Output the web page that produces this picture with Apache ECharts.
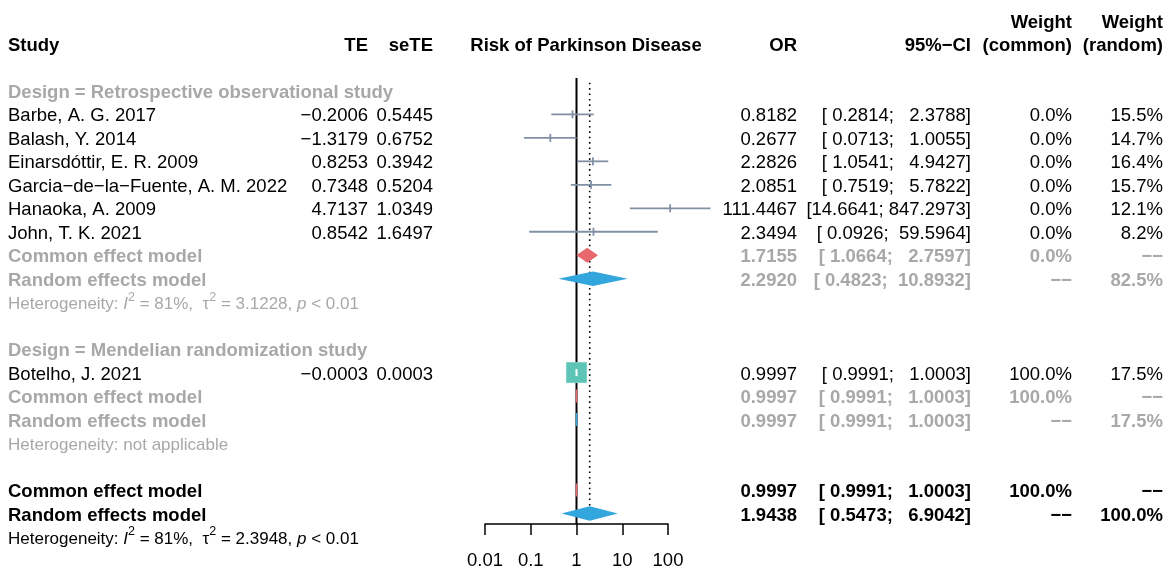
<!DOCTYPE html>
<html><head><meta charset="utf-8">
<script src="https://cdn.jsdelivr.net/npm/echarts@6/dist/echarts.min.js"></script>
<style>html,body{margin:0;padding:0;background:#fff}#c{width:1176px;height:569px}</style>
</head><body><div id="c"></div>
<script>
// ---------- data ----------
const studies = ['Barbe, A. G. 2017','Balash, Y. 2014','Einarsdóttir, E. R. 2009','Garcia−de−la−Fuente, A. M. 2022','Hanaoka, A. 2009','John, T. K. 2021','Botelho, J. 2021'];
const studyRows = [1,2,3,4,5,6,12];
const te = [-0.2006,-1.3179,0.8253,0.7348,4.7137,0.8542,-0.0003];
const seTE = [0.5445,0.6752,0.3942,0.5204,1.0349,1.6497,0.0003];
const orVal = [0.8182,0.2677,2.2826,2.0851,111.4467,2.3494,0.9997];
const ciLow = [0.2814,0.0713,1.0541,0.7519,14.6641,0.0926,0.9991];
const ciUp = [2.3788,1.0055,4.9427,5.7822,847.2973,59.5964,1.0003];
const wCommon = [0.0,0.0,0.0,0.0,0.0,0.0,100.0];
const wRandom = [15.5,14.7,16.4,15.7,12.1,8.2,17.5];

const sumLabels = ['Common effect model','Random effects model','Common effect model','Random effects model','Common effect model','Random effects model'];
const sumRows = [7,8,13,14,17,18];
const sumType = ['common','random','common','random','common','random'];
const sumOR = [1.7155,2.2920,0.9997,0.9997,0.9997,1.9438];
const sumLow = [1.0664,0.4823,0.9991,0.9991,0.9991,0.5473];
const sumUp = [2.7597,10.8932,1.0003,1.0003,1.0003,6.9042];
const sumWCommon = ['0.0%','−−','100.0%','−−','100.0%','−−'];
const sumWRandom = ['−−','82.5%','−−','17.5%','−−','100.0%'];
const sumOverall = [false,false,false,false,true,true];

const groupLabels = ['Design = Retrospective observational study','Design = Mendelian randomization study'];
const groupRows = [0,11];

const hetRows = [9,15,19];
const hetI2 = ['81%', null, '81%'];
const hetTau2 = ['3.1228', null, '2.3948'];
const hetP = ['< 0.01', null, '< 0.01'];
const hetOverall = [false,false,true];

const xTicks = [0.01,0.1,1,10,100];
const tickLabels = ['0.01','0.1','1','10','100'];
const refNull = 1;
const refRandom = 1.9438;

// ---------- style ----------
const FONT = '"Liberation Sans", Arial, Helvetica, sans-serif';
const FS = 18.5, FS_HET = 17;
const GRAY = '#a8a8a8';
const LINE_COL = '#8190a4';
const RED = '#e8686e', BLUE = '#34a6de', TEAL = '#5dc4b7';

const chart = echarts.init(document.getElementById('c'), null, {renderer:'canvas'});

const ciData = studyRows.map((r,i)=>[ciLow[i], ciUp[i], r, orVal[i], wCommon[i]]);
const dmData = sumRows.map((r,i)=>[sumLow[i], sumUp[i], sumOR[i], r, sumType[i]==='common'?0:1]);
const refData = [[refNull,-0.55,18.45,0],[refRandom,-0.35,18.0,1]];
const maxW = Math.max(...wCommon);

chart.setOption({
  animation:false,
  backgroundColor:'#ffffff',
  grid:{left:485, width:183, top:78, height:446, containLabel:false, outerBoundsMode:'none'},
  xAxis:{type:'log', logBase:10, min:0.01, max:100, interval:1, position:'bottom',
    axisLine:{show:true, onZero:false, lineStyle:{color:'#000', width:1.5}},
    axisTick:{show:true, inside:false, length:11, lineStyle:{color:'#000', width:1.5}},
    axisLabel:{margin:27, color:'#000', fontFamily:FONT, fontSize:FS,
      formatter:(v)=>{const k=xTicks.findIndex(t=>Math.abs(Math.log10(t)-Math.log10(v))<1e-6);return k>=0?tickLabels[k]:'';}},
    splitLine:{show:false}, minorTick:{show:false}},
  yAxis:{type:'value', inverse:true, min:-0.55, max:18.45, show:false},
  series:[
    {type:'custom', clip:false, z:1, data:refData, encode:{x:0,y:[1,2]},
      renderItem:(p,api)=>{
        const a=api.coord([api.value(0),api.value(1)]), b=api.coord([api.value(0),api.value(2)]);
        const dotted = api.value(3)===1;
        return {type:'line', shape:{x1:a[0],y1:a[1],x2:b[0],y2:b[1]},
          style:{stroke:'#000', lineWidth: dotted?1.6:2, lineDash: dotted?[1.6,3.8]:null}};
      }},
    {type:'custom', clip:false, z:2, data:ciData, encode:{x:[0,1,3],y:2},
      renderItem:(p,api)=>{
        const row=api.value(2);
        const lo=api.coord([api.value(0),row]), hi=api.coord([api.value(1),row]), est=api.coord([api.value(3),row]);
        const w=api.value(4);
        const ch=[];
        if (w>0){
          const s=20*Math.sqrt(w/maxW);
          ch.push({type:'rect', shape:{x:est[0]-s/2,y:est[1]-s/2,width:s,height:s},
            style:{fill:TEAL, stroke:'#7fd2c6', lineWidth:1}});
          ch.push({type:'line', shape:{x1:lo[0],y1:lo[1],x2:hi[0],y2:hi[1]}, style:{stroke:'#fff',lineWidth:1.8}});
          ch.push({type:'rect', shape:{x:est[0]-1,y:est[1]-3.5,width:2,height:7}, style:{fill:'#fff'}});
        } else {
          ch.push({type:'line', shape:{x1:lo[0],y1:lo[1],x2:hi[0],y2:hi[1]}, style:{stroke:LINE_COL,lineWidth:1.8}});
          ch.push({type:'line', shape:{x1:est[0],y1:est[1]-4,x2:est[0],y2:est[1]+4}, style:{stroke:LINE_COL,lineWidth:1.8}});
        }
        return {type:'group', children:ch};
      }},
    {type:'custom', clip:false, z:3, data:dmData, encode:{x:[0,1,2],y:3},
      renderItem:(p,api)=>{
        const row=api.value(3);
        const lo=api.coord([api.value(0),row]), hi=api.coord([api.value(1),row]), est=api.coord([api.value(2),row]);
        const h=6.5;
        const col = api.value(4)===0?RED:BLUE;
        return {type:'polygon',
          shape:{points:[[lo[0],lo[1]],[est[0],est[1]-h],[hi[0],hi[1]],[est[0],est[1]+h]]},
          style:{fill:col, stroke:col, lineWidth:1.5, lineJoin:'miter'}};
      }}
  ]
});

// ---------- table text ----------
const TEXT_DY = 2;
const yPix = (row)=>chart.convertToPixel({gridIndex:0},[1,row])[1] + TEXT_DY;
const fmt4 = (v)=>(v<0?'−':'')+Math.abs(v).toFixed(4);
const padL = (s,n)=>' '.repeat(Math.max(0,n-s.length))+s;
const allLow = ciLow.concat(sumLow).map(v=>v.toFixed(4));
const allUp = ciUp.concat(sumUp).map(v=>v.toFixed(4));
const wLow = Math.max(...allLow.map(s=>s.length));
const wUp = Math.max(...allUp.map(s=>s.length));
const ciStr = (lo,hi)=>'['+padL(lo.toFixed(4),wLow)+'; '+padL(hi.toFixed(4),wUp)+']';
const X = {study:8, te:368, sete:433, forest:586, or:797, ci:971, wc:1072, wr:1163};

function T(x,row,text,align,o){
  o=o||{};
  const st={text, align, verticalAlign:'middle', fill:o.fill||'#000', fontFamily:FONT,
    fontSize:o.size||FS, fontWeight:o.bold?'bold':'normal'};
  if(o.rich) st.rich=o.rich;
  return {type:'text', x, y:yPix(row), silent:true, style:st};
}
const G=[];
G.push(T(X.study,-2,'Study','left',{bold:true}));
G.push(T(X.te,-2,'TE','right',{bold:true}));
G.push(T(X.sete,-2,'seTE','right',{bold:true}));
G.push(T(X.forest,-2,'Risk of Parkinson Disease','center',{bold:true}));
G.push(T(X.or,-2,'OR','right',{bold:true}));
G.push(T(X.ci,-2,'95%−CI','right',{bold:true}));
G.push(T(X.wc,-3,'Weight','right',{bold:true}));
G.push(T(X.wc,-2,'(common)','right',{bold:true}));
G.push(T(X.wr,-3,'Weight','right',{bold:true}));
G.push(T(X.wr,-2,'(random)','right',{bold:true}));
groupRows.forEach((r,i)=>G.push(T(X.study,r,groupLabels[i],'left',{bold:true,fill:GRAY})));
studyRows.forEach((r,i)=>{
  G.push(T(X.study,r,studies[i],'left'));
  G.push(T(X.te,r,fmt4(te[i]),'right'));
  G.push(T(X.sete,r,fmt4(seTE[i]),'right'));
  G.push(T(X.or,r,orVal[i].toFixed(4),'right'));
  G.push(T(X.ci,r,ciStr(ciLow[i],ciUp[i]),'right'));
  G.push(T(X.wc,r,wCommon[i].toFixed(1)+'%','right'));
  G.push(T(X.wr,r,wRandom[i].toFixed(1)+'%','right'));
});
sumRows.forEach((r,i)=>{
  const o={bold:true, fill: sumOverall[i]?'#000':GRAY};
  G.push(T(X.study,r,sumLabels[i],'left',o));
  G.push(T(X.or,r,sumOR[i].toFixed(4),'right',o));
  G.push(T(X.ci,r,ciStr(sumLow[i],sumUp[i]),'right',o));
  G.push(T(X.wc,r,sumWCommon[i],'right',o));
  G.push(T(X.wr,r,sumWRandom[i],'right',o));
});
hetRows.forEach((r,i)=>{
  const fill = hetOverall[i]?'#000':GRAY;
  if(hetI2[i]===null){ G.push(T(X.study,r,'Heterogeneity: not applicable','left',{size:FS_HET,fill})); return; }
  const base={fontFamily:FONT,fontSize:FS_HET,fill};
  const rich={
    n:Object.assign({},base),
    i:Object.assign({},base,{fontStyle:'italic'}),
    s:{fontFamily:FONT,fontSize:12.5,fill,padding:[0,0,14,0]}
  };
  const txt='{n|Heterogeneity: }{i|I}{s|2}{n| = '+hetI2[i]+',  τ}{s|2}{n| = '+hetTau2[i]+', }{i|p}{n| '+hetP[i]+'}';
  G.push(T(X.study,r,txt,'left',{size:FS_HET,fill,rich}));
});
chart.setOption({graphic:G});
</script>
</body></html>
